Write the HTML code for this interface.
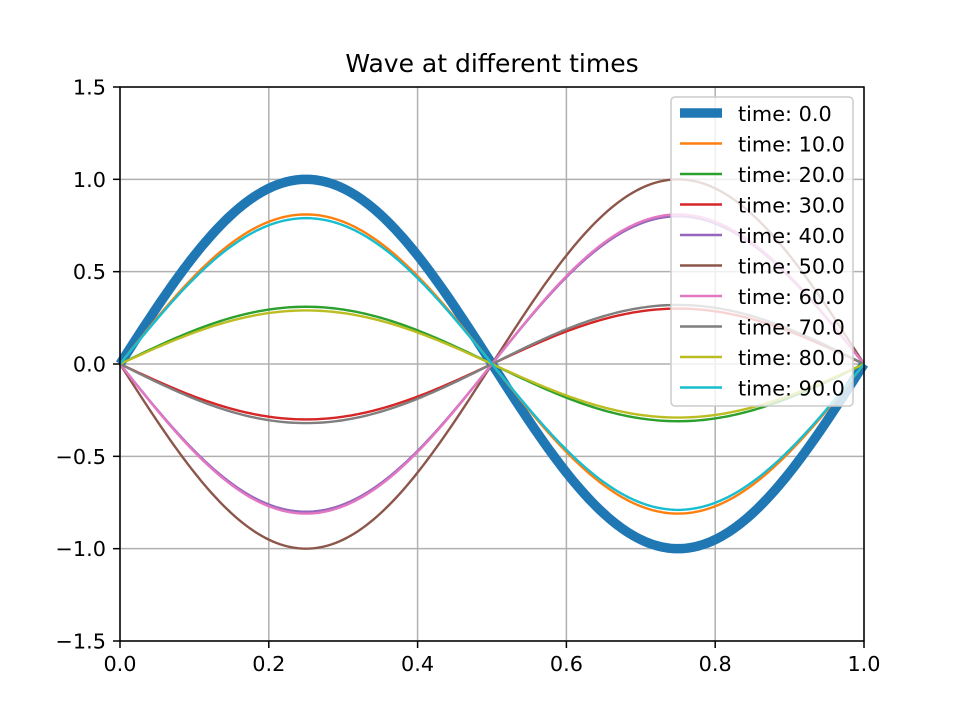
<!DOCTYPE html>
<html><head><meta charset="utf-8"><style>
body{margin:0;background:#fff}
svg text{font-family:"DejaVu Sans","Liberation Sans",sans-serif;fill:#000}
</style></head><body>
<svg id="chart" width="960" height="720" viewBox="0 0 960 720">
<rect width="960" height="720" fill="#fff"/>
<text x="492" y="72" font-size="25" text-anchor="middle">Wave at different times</text>
<g id="grid"></g><g id="series"></g><g id="axes"></g><g id="legend"></g>
</svg>
<script>
const xTicks=[0.0,0.2,0.4,0.6,0.8,1.0];
const yTicks=[-1.5,-1.0,-0.5,0.0,0.5,1.0,1.5];
const xTickLabels=["0.0","0.2","0.4","0.6","0.8","1.0"];
const yTickLabels=["\u22121.5","\u22121.0","\u22120.5","0.0","0.5","1.0","1.5"];
const seriesLabels=["time: 0.0","time: 10.0","time: 20.0","time: 30.0","time: 40.0","time: 50.0","time: 60.0","time: 70.0","time: 80.0","time: 90.0"];
const amplitudes=[1.0,0.81,0.31,-0.30,-0.80,-1.0,-0.81,-0.32,0.29,0.79];
const colors=["#1f77b4","#ff7f0e","#2ca02c","#d62728","#9467bd","#8c564b","#e377c2","#7f7f7f","#bcbd22","#17becf"];
const X0=120,X1=864,Y0=641,Y1=87;
const xs=v=>X0+(v-0)/(1-0)*(X1-X0);
const ys=v=>Y0-(v+1.5)/3*(Y0-Y1);
const NS="http://www.w3.org/2000/svg";
function mk(tag,attrs,parent){const e=document.createElementNS(NS,tag);for(const k in attrs)e.setAttribute(k,attrs[k]);parent.appendChild(e);return e;}
const grid=document.getElementById('grid'),axes=document.getElementById('axes'),ser=document.getElementById('series'),leg=document.getElementById('legend');
xTicks.forEach((t,i)=>{
  const g=mk('line',{x1:xs(t),x2:xs(t),y1:Y1,y2:Y0,stroke:'#b0b0b0','stroke-width':1.5},grid);
  
  
  mk('line',{x1:xs(t),x2:xs(t),y1:Y0,y2:Y0+7,stroke:'#000','stroke-width':1.5},axes);
  const l=mk('text',{x:xs(t),y:Y0+30,'font-size':20.8,'text-anchor':'middle'},axes);l.textContent=xTickLabels[i];
  
  
});
yTicks.forEach((t,i)=>{
  const g=mk('line',{x1:X0,x2:X1,y1:ys(t),y2:ys(t),stroke:'#b0b0b0','stroke-width':1.5},grid);
  
  
  mk('line',{x1:X0-7,x2:X0,y1:ys(t),y2:ys(t),stroke:'#000','stroke-width':1.5},axes);
  const l=mk('text',{x:X0-14,y:ys(t)+7.5,'font-size':20.8,'text-anchor':'end'},axes);l.textContent=yTickLabels[i];
  
  
});
const frame=mk('rect',{x:X0,y:Y1,width:X1-X0,height:Y0-Y1,fill:'none',stroke:'#000','stroke-width':1.5},axes);


amplitudes.forEach((a,i)=>{
  let d='';
  for(let k=0;k<=200;k++){const x=k/200;const y=a*Math.sin(2*Math.PI*x);d+=(k?'L':'M')+xs(x).toFixed(2)+','+ys(y).toFixed(2);}
  const p=mk('path',{d:d,fill:'none',stroke:colors[i],'stroke-width':i===0?9.5:2.4,'stroke-linecap':'butt','stroke-linejoin':'round'},ser);
  
  
});
const lb=mk('rect',{x:671,y:97,width:182,height:309,rx:4,fill:'#fff','fill-opacity':0.8,stroke:'#ccc','stroke-width':1.5},leg);


seriesLabels.forEach((s,i)=>{
  const y=113+i*30.5;
  const ln=mk('line',{x1:680,x2:722,y1:y,y2:y,stroke:colors[i],'stroke-width':i===0?9.5:2.4},leg);
  
  
  const t=mk('text',{x:738,y:y+8,'font-size':20.8},leg);t.textContent=s;
  
  
});
</script>
</body></html>
